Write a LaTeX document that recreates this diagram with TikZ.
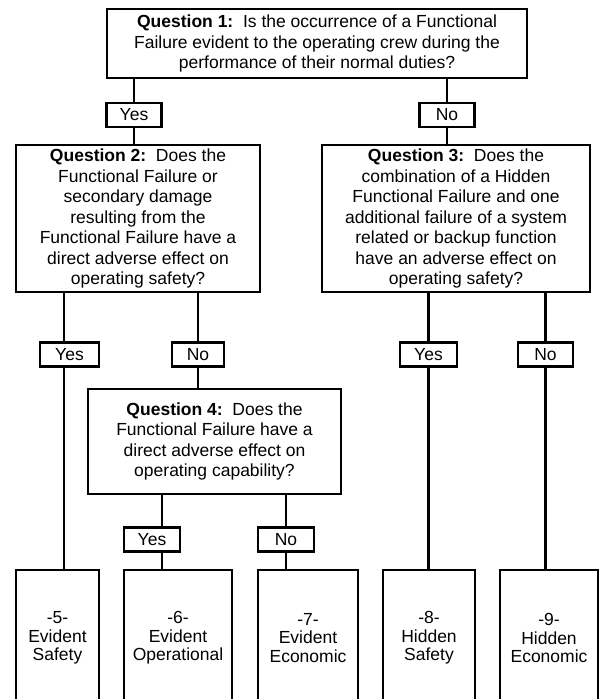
\documentclass[tikz,border=0pt]{standalone}
\usepackage{fontspec}
\setmainfont{Liberation Sans}
\usetikzlibrary{positioning,backgrounds}

\begin{document}
\begin{tikzpicture}[
    x=1pt,y=-1pt,
    every node/.style={font=\fontsize{17.5}{20.5}\selectfont},
    box/.style={draw,line width=2.2pt,align=center,inner sep=0pt},
    question/.style={box},
    result/.style={box,minimum height=136pt,font=\fontsize{17.5}{18.5}\selectfont},
    answer/.style={box,fill=white,minimum width=55pt,minimum height=24pt},
    wire/.style={line width=2.2pt}
  ]
    \useasboundingbox (0,0) rectangle (599,699);
    \clip (0,0) rectangle (599,699);

    % questions
    \node[question,minimum width=420pt,minimum height=69pt] (q1) at (317,43.5)
      {\textbf{Question 1:}\ \ Is the occurrence of a Functional\\Failure evident to the operating crew during the\\performance of their normal duties?};
    \node[question,minimum width=244pt,minimum height=147pt] (q2) at (138,218.5)
      {\textbf{Question 2:}\ \ Does the\\Functional Failure or\\secondary damage\\resulting from the\\Functional Failure have a\\direct adverse effect on\\operating safety?};
    \node[question,minimum width=268pt,minimum height=147pt] (q3) at (456,218.5)
      {\textbf{Question 3:}\ \ Does the\\combination of a Hidden\\Functional Failure and one\\additional failure of a system\\related or backup function\\have an adverse effect on\\operating safety?};
    \node[question,minimum width=253pt,minimum height=105pt] (q4) at (214.5,441.5)
      {\textbf{Question 4:}\ \ Does the\\Functional Failure have a\\direct adverse effect on\\operating capability?};

    % answers
    \node[answer] (yes1) at (134,115) {Yes};
    \node[answer] (no1) at (447,115) {No};
    \node[answer,minimum width=59pt] (yes2) at (69.5,354.5) {Yes};
    \node[answer,minimum width=52pt] (no2) at (198,354.5) {No};
    \node[answer,minimum width=57pt] (yes3) at (428.5,354.5) {Yes};
    \node[answer] (no3) at (545.5,354.5) {No};
    \node[answer,minimum width=56pt] (yes4) at (152,539.5) {Yes};
    \node[answer,minimum width=56pt] (no4) at (286,539.5) {No};

    % categories
    \node[result,minimum width=83pt] (r5) at (57.5,638) {-5-\\Evident\\Safety};
    \node[result,minimum width=108pt] (r6) at (178,638) {-6-\\Evident\\Operational};
    \node[result,minimum width=100pt] (r7) at (308,638) {-7-\\Evident\\Economic};
    \node[result,minimum width=92pt] (r8) at (429,638) {-8-\\Hidden\\Safety};
    \node[result,minimum width=98pt] (r9) at (549,638) {-9-\\Hidden\\Economic};

    \coordinate (y2) at ([xshift=-5.5pt]yes2.center);
    \coordinate (y4) at ([xshift=10pt]yes4.center);

    \begin{scope}[on background layer]
      \draw[wire] (yes1 |- q1.south) -- (yes1 |- q2.north);
      \draw[wire] (no1 |- q1.south) -- (no1 |- q3.north);
      \draw[wire] (y2 |- q2.south) -- (y2 |- r5.north);
      \draw[wire] (no2 |- q2.south) -- (no2 |- q4.north);
      \draw[wire] (yes3 |- q3.south) -- (yes3 |- r8.north);
      \draw[wire] (no3 |- q3.south) -- (no3 |- r9.north);
      \draw[wire] (y4 |- q4.south) -- (y4 |- r6.north);
      \draw[wire] (no4 |- q4.south) -- (no4 |- r7.north);
    \end{scope}
  \end{tikzpicture}
\end{document}
